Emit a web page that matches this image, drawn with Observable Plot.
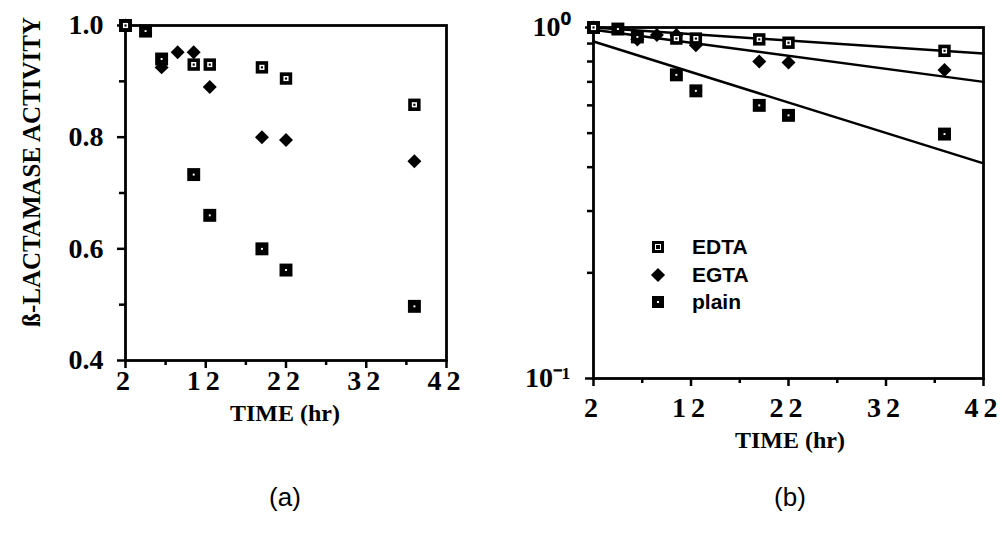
<!DOCTYPE html>
<html><head><meta charset="utf-8">
<script src="https://cdn.jsdelivr.net/npm/d3@7"></script>
<script src="https://cdn.jsdelivr.net/npm/@observablehq/plot@0.6"></script>
<style>
html,body{margin:0;padding:0;background:#fff;}
#wrap{position:relative;width:1002px;height:537px;overflow:hidden;}
.panel{position:absolute;top:0;}
.lab{position:absolute;font-family:"Liberation Serif",serif;font-weight:bold;font-size:24px;color:#000;white-space:nowrap;transform:translate(-50%,-50%);}
.cap{position:absolute;font-family:"Liberation Sans",sans-serif;font-size:26px;color:#000;transform:translate(-50%,-50%);}
.ylab{position:absolute;font-family:"Liberation Serif",serif;font-weight:bold;font-size:25px;white-space:nowrap;transform:translate(-50%,-50%) rotate(-90deg);}
.leg{position:absolute;font-family:"Liberation Sans",sans-serif;font-weight:bold;font-size:21px;transform:translateY(-50%);}
.mk{position:absolute;transform:translate(-50%,-50%);}
#wrap svg text{font-family:"Liberation Serif",serif !important;font-size:28px !important;font-weight:bold !important;}
g[aria-label="x-axis tick label"] text{letter-spacing:5px;}
</style>
</head><body>
<div id="wrap">
  <div id="pa" class="panel" style="left:0"></div>
  <div id="pb" class="panel" style="left:500px"></div>
  <div class="ylab" style="left:32px;top:172px">ß-LACTAMASE ACTIVITY</div>
  <div class="lab" style="left:285px;top:413px">TIME (hr)</div>
  <div class="lab" style="left:790px;top:440px">TIME (hr)</div>
  <div class="cap" style="left:285px;top:497px">(a)</div>
  <div class="cap" style="left:790px;top:497px">(b)</div>
  <div class="mk" style="left:658px;top:247px;width:12px;height:12px;background:#000;"><div style="position:absolute;left:3px;top:3px;width:4px;height:4px;border:1px solid #fff;"></div></div>
  <div class="leg" style="left:692px;top:247px">EDTA</div>
  <div class="mk" style="left:658px;top:275px;width:10px;height:10px;background:#000;transform:translate(-50%,-50%) rotate(45deg);"></div>
  <div class="leg" style="left:692px;top:275px">EGTA</div>
  <div class="mk" style="left:658px;top:302px;width:12px;height:12px;background:#000;"><div style="position:absolute;left:5px;top:5px;width:2px;height:2px;background:#fff;"></div></div>
  <div class="leg" style="left:692px;top:302px">plain</div>
</div>
<script>
// Data (time in hr, relative β-lactamase activity)
const edtaTime  = [2, 10.5, 12.5, 19, 22, 38];
const edtaAct   = [1.0, 0.93, 0.93, 0.925, 0.905, 0.858];
const egtaTime  = [2, 6.5, 8.5, 10.5, 12.5, 19, 22, 38];
const egtaAct   = [1.0, 0.925, 0.952, 0.952, 0.89, 0.80, 0.795, 0.757];
const plainTime = [2, 4.5, 6.5, 10.5, 12.5, 19, 22, 38];
const plainAct  = [1.0, 0.99, 0.94, 0.733, 0.66, 0.60, 0.562, 0.497];
// Fitted exponential decay lines (panel b)
const fitTime  = [2, 42];
const fitEDTA  = [1.0, 0.843];
const fitEGTA  = [0.985, 0.70];
const fitPlain = [0.912, 0.41];
// Tick values
const xMajor = [2, 12, 22, 32, 42];
const xMinor = [7, 17, 27, 37];
const yMajorA = [0.4, 0.6, 0.8, 1.0];
const yMinorA = [0.5, 0.7, 0.9];
const yMajorB = [0.1, 1];
const yMinorB = [0.2, 0.3, 0.4, 0.5, 0.6, 0.7, 0.8, 0.9];

const rows = (t, v) => t.map((x, i) => ({t: x, v: v[i]}));
const edta = rows(edtaTime, edtaAct);
const egta = rows(egtaTime, egtaAct);
const plain = rows(plainTime, plainAct);
const fits = [
  ...rows(fitTime, fitEDTA).map(d => ({...d, s: "EDTA"})),
  ...rows(fitTime, fitEGTA).map(d => ({...d, s: "EGTA"})),
  ...rows(fitTime, fitPlain).map(d => ({...d, s: "plain"}))
];

const font = {fontFamily: "Liberation Serif, serif", fontSize: 28, fontWeight: "bold"};
const style = {fontFamily: "Liberation Serif, serif", fontSize: "28px", fontWeight: "bold", background: "white", color: "black", overflow: "visible"};

function markers() {
  return [
    Plot.dot(egta, {x: "t", y: "v", symbol: "diamond2", r: 6.3, fill: "black", stroke: null}),
    Plot.dot(plain, {x: "t", y: "v", symbol: "square", r: 7.3, fill: "black", stroke: null}),
    Plot.dot(plain, {x: "t", y: "v", symbol: "square", r: 1.1, fill: "white", stroke: null}),
    Plot.dot(edta, {x: "t", y: "v", symbol: "square", r: 7, fill: "black", stroke: null}),
    Plot.dot(edta, {x: "t", y: "v", symbol: "square", r: 2.9, fill: "white", stroke: null}),
    Plot.dot(edta, {x: "t", y: "v", symbol: "square", r: 1.2, fill: "black", stroke: null})
  ];
}
function xAxes(pad) {
  return [
    Plot.axisX({ticks: xMajor, tickSize: 8, tickPadding: pad, tickFormat: d => String(d), label: null, strokeWidth: 2.5, ...font}),
    Plot.axisX({ticks: xMinor, tickSize: 5, tickFormat: () => "", label: null, strokeWidth: 2.5})
  ];
}

const a = Plot.plot({
  width: 500, height: 537,
  marginLeft: 125, marginRight: 54, marginTop: 25, marginBottom: 177,
  style,
  x: {domain: [2, 42]},
  y: {domain: [0.4, 1.0]},
  marks: [
    Plot.frame({stroke: "black", strokeWidth: 2.8}),
    ...xAxes(2),
    Plot.axisY({ticks: yMajorA, tickSize: 8, tickPadding: 14, tickFormat: d3.format(".1f"), label: null, strokeWidth: 2.5, ...font}),
    Plot.axisY({ticks: yMinorA, tickSize: 6, tickFormat: () => "", label: null, strokeWidth: 2.5}),
    ...markers()
  ]
});
document.getElementById("pa").append(a);

const b = Plot.plot({
  width: 502, height: 537,
  marginLeft: 93, marginRight: 19, marginTop: 27, marginBottom: 159,
  style,
  x: {domain: [2, 42]},
  y: {type: "log", domain: [0.1, 1]},
  marks: [
    Plot.frame({stroke: "black", strokeWidth: 2.8}),
    ...xAxes(11),
    Plot.axisY({ticks: yMajorB, tickSize: 8, tickPadding: 15, tickFormat: d => d === 1 ? "10⁰" : "10⁻¹", label: null, strokeWidth: 2.5, ...font}),
    Plot.axisY({ticks: yMinorB, tickSize: 6, tickFormat: () => "", label: null, strokeWidth: 2.5}),
    Plot.line(fits, {x: "t", y: "v", z: "s", stroke: "black", strokeWidth: 2.5}),
    ...markers()
  ]
});
document.getElementById("pb").append(b);
</script>
</body></html>
